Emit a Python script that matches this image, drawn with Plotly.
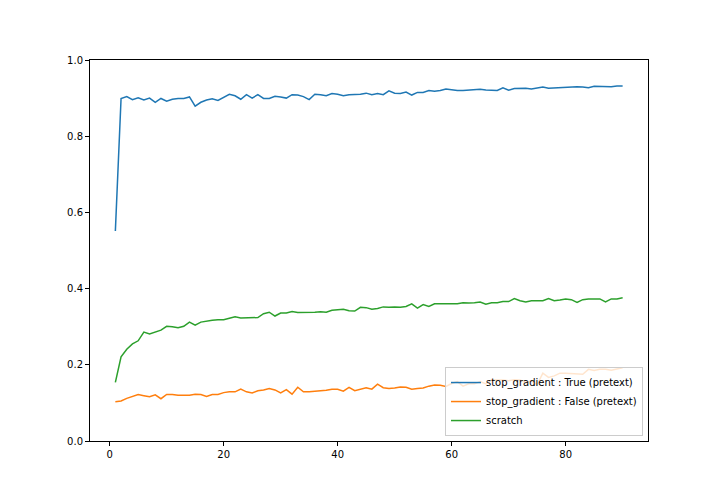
import plotly.graph_objects as go

epochs = list(range(1, 91))

stop_true = [
    0.551, 0.899, 0.904, 0.896, 0.901, 0.895, 0.900, 0.889, 0.899, 0.892,
    0.897, 0.899, 0.899, 0.903, 0.879, 0.889, 0.895, 0.898, 0.894, 0.903,
    0.910, 0.906, 0.897, 0.909, 0.900, 0.909, 0.899, 0.899, 0.905, 0.903,
    0.900, 0.909, 0.908, 0.904, 0.896, 0.910, 0.909, 0.906, 0.912, 0.910,
    0.906, 0.909, 0.909, 0.910, 0.913, 0.909, 0.912, 0.909, 0.919, 0.913,
    0.912, 0.916, 0.908, 0.915, 0.915, 0.920, 0.918, 0.920, 0.924, 0.921,
    0.920, 0.920, 0.921, 0.922, 0.923, 0.921, 0.920, 0.920, 0.927, 0.921,
    0.925, 0.926, 0.926, 0.924, 0.927, 0.929, 0.926, 0.927, 0.928, 0.929,
    0.929, 0.930, 0.929, 0.927, 0.931, 0.931, 0.931, 0.930, 0.932, 0.932,
]

stop_false = [
    0.103, 0.105, 0.112, 0.116, 0.122, 0.119, 0.116, 0.121, 0.111, 0.122,
    0.122, 0.120, 0.120, 0.120, 0.123, 0.122, 0.117, 0.122, 0.122, 0.127,
    0.129, 0.129, 0.136, 0.129, 0.126, 0.132, 0.134, 0.138, 0.134, 0.126,
    0.135, 0.123, 0.141, 0.129, 0.129, 0.130, 0.131, 0.133, 0.136, 0.136,
    0.131, 0.141, 0.132, 0.137, 0.140, 0.136, 0.149, 0.140, 0.138, 0.139,
    0.142, 0.141, 0.136, 0.138, 0.139, 0.144, 0.147, 0.146, 0.143, 0.151,
    0.156, 0.144, 0.150, 0.150, 0.156, 0.150, 0.161, 0.160, 0.160, 0.158,
    0.161, 0.160, 0.153, 0.158, 0.148, 0.178, 0.167, 0.171, 0.178, 0.178,
    0.177, 0.177, 0.175, 0.188, 0.185, 0.188, 0.188, 0.186, 0.189, 0.192,
]

scratch = [
    0.154, 0.221, 0.241, 0.255, 0.263, 0.286, 0.281, 0.286, 0.291, 0.301,
    0.300, 0.297, 0.301, 0.312, 0.304, 0.312, 0.315, 0.317, 0.318, 0.318,
    0.322, 0.326, 0.323, 0.323, 0.324, 0.324, 0.334, 0.338, 0.328, 0.336,
    0.336, 0.340, 0.337, 0.337, 0.338, 0.338, 0.339, 0.338, 0.343, 0.344,
    0.346, 0.342, 0.341, 0.351, 0.350, 0.346, 0.348, 0.352, 0.351, 0.352,
    0.351, 0.353, 0.360, 0.349, 0.358, 0.353, 0.360, 0.360, 0.360, 0.360,
    0.360, 0.363, 0.362, 0.363, 0.365, 0.359, 0.363, 0.363, 0.366, 0.366,
    0.374, 0.368, 0.365, 0.368, 0.368, 0.368, 0.374, 0.368, 0.370, 0.373,
    0.371, 0.364, 0.371, 0.373, 0.373, 0.373, 0.365, 0.373, 0.373, 0.376,
]

series_names = [
    "stop_gradient : True (pretext)",
    "stop_gradient : False (pretext)",
    "scratch",
]
series_colors = ["#1f77b4", "#ff7f0e", "#2ca02c"]
x_ticks = [0, 20, 40, 60, 80]
y_ticks = [0.0, 0.2, 0.4, 0.6, 0.8, 1.0]

fig = go.Figure()
for name, vals, col in zip(series_names, [stop_true, stop_false, scratch], series_colors):
    fig.add_trace(go.Scatter(x=epochs, y=vals, mode="lines", name=name,
                             line=dict(color=col, width=1.5)))

axis_common = dict(
    showgrid=False, zeroline=False, showline=True, linecolor="black",
    linewidth=1, mirror=True, ticks="outside", ticklen=4, tickwidth=1,
    tickcolor="black", tickfont=dict(family="DejaVu Sans", size=10, color="black"),
)

fig.update_layout(
    width=720, height=504,
    margin=dict(l=82, r=80, t=52, b=71),
    paper_bgcolor="white", plot_bgcolor="white",
    font=dict(family="DejaVu Sans", size=10, color="black"),
    xaxis=dict(range=[-3.45, 94.45], tickvals=x_ticks, **axis_common),
    yaxis=dict(range=[0, 1], tickvals=y_ticks, tickformat=".1f", **axis_common),
    showlegend=True,
    legend=dict(x=0.991, y=0.013, xanchor="right", yanchor="bottom",
                bgcolor="rgba(255,255,255,0.8)", bordercolor="#cccccc",
                borderwidth=1, itemwidth=30, tracegroupgap=0,
                font=dict(family="DejaVu Sans", size=10, color="black")),
)

fig.write_html("out.html")
